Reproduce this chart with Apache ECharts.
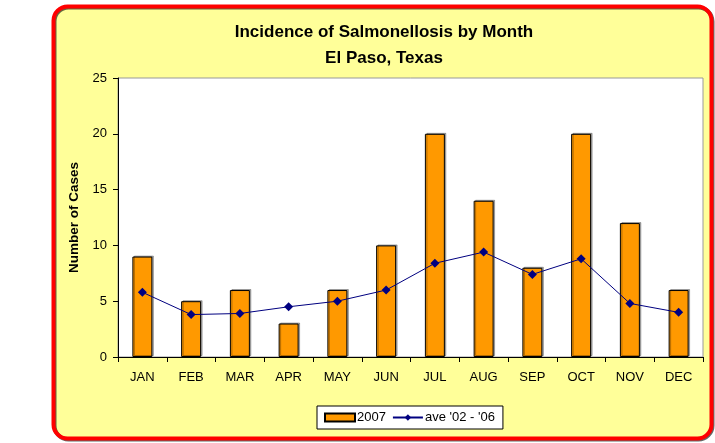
<!DOCTYPE html>
<html>
<head>
<meta charset="utf-8">
<script src="https://cdn.jsdelivr.net/npm/echarts@6/dist/echarts.min.js"></script>
<style>
  html, body { margin: 0; padding: 0; background: #ffffff; }
  #main { width: 715px; height: 443px; }
</style>
</head>
<body>
<div id="main"></div>
<script>
var months = ['JAN', 'FEB', 'MAR', 'APR', 'MAY', 'JUN', 'JUL', 'AUG', 'SEP', 'OCT', 'NOV', 'DEC'];
var cases2007 = [9, 5, 6, 3, 6, 10, 20, 14, 8, 20, 12, 6];
var ave0206 = [5.8, 3.8, 3.9, 4.5, 5.0, 6.0, 8.4, 9.4, 7.4, 8.8, 4.8, 4.0];
var yTicks = { min: 0, max: 25, step: 5 };

var chartDom = document.getElementById('main');
var myChart = echarts.init(chartDom, null, { renderer: 'canvas' });
var font = 'Liberation Sans, Arial, sans-serif';

var option = {
  animation: false,
  textStyle: { fontFamily: font },
  graphic: [
    {
      type: 'rect',
      z: -10,
      shape: { x: 53.5, y: 6.5, width: 658, height: 432, r: 14 },
      style: {
        fill: '#FFFF99',
        stroke: '#FF0000',
        lineWidth: 4,
        shadowColor: 'rgba(0,0,0,0.6)',
        shadowOffsetX: 1,
        shadowOffsetY: 1
      }
    }
  ],
  title: {
    text: 'Incidence of Salmonellosis by Month\nEl Paso, Texas',
    left: 379,
    textAlign: 'center',
    top: 14,
    textStyle: {
      fontFamily: font,
      fontSize: 17,
      fontWeight: 'bold',
      color: '#000',
      lineHeight: 26
    }
  },
  legend: {
    left: 317,
    top: 406,
    padding: [5, 8, 5, 7],
    itemGap: 6,
    itemWidth: 30,
    itemHeight: 8,
    backgroundColor: '#fff',
    borderColor: '#000',
    borderWidth: 1,
    borderRadius: 0,
    textStyle: { fontFamily: font, fontSize: 13, color: '#000', padding: [0, 0, 0, -3] },
    data: [
      { name: '2007', icon: 'rect' },
      { name: "ave '02 - '06" }
    ]
  },
  grid: {
    left: 118,
    top: 78,
    right: 12,
    bottom: 86,
    show: true,
    backgroundColor: '#ffffff',
    borderColor: '#999999',
    borderWidth: 1
  },
  xAxis: {
    type: 'category',
    data: months,
    axisLine: { lineStyle: { color: '#000', width: 1 } },
    axisTick: { show: true, inside: false, length: 5, lineStyle: { color: '#000' } },
    axisLabel: { fontFamily: font, fontSize: 13, color: '#000', margin: 14 }
  },
  yAxis: {
    type: 'value',
    min: yTicks.min,
    max: yTicks.max,
    interval: yTicks.step,
    name: 'Number of Cases',
    nameLocation: 'middle',
    nameGap: 34,
    nameTextStyle: { fontFamily: font, fontSize: 13.5, fontWeight: 'bold', color: '#000' },
    axisLine: { show: true, lineStyle: { color: '#000', width: 1 } },
    axisTick: { show: true, inside: false, length: 5, lineStyle: { color: '#000' } },
    axisLabel: { fontFamily: font, fontSize: 13, color: '#000', margin: 11 },
    splitLine: { show: false }
  },
  series: [
    {
      name: '2007',
      type: 'bar',
      data: cases2007,
      barWidth: '41%',
      itemStyle: {
        color: '#FF9900',
        borderColor: '#000',
        borderWidth: 1,
        shadowColor: 'rgba(0,0,0,0.3)',
        shadowOffsetX: 1.5,
        shadowOffsetY: -1
      }
    },
    {
      name: "ave '02 - '06",
      type: 'line',
      data: ave0206,
      symbol: 'diamond',
      symbolSize: 9,
      itemStyle: { color: '#000080' },
      lineStyle: { color: '#000080', width: 1 },
      z: 5
    }
  ]
};

myChart.setOption(option);
</script>
</body>
</html>
